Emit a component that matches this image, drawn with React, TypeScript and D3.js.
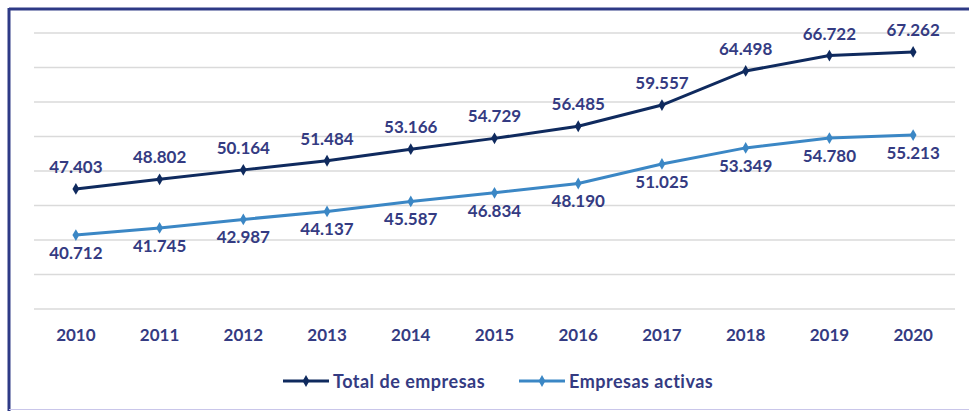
import React, { useEffect, useRef } from 'react'
import * as d3 from 'd3'

const years = ['2010', '2011', '2012', '2013', '2014', '2015', '2016', '2017', '2018', '2019', '2020']
const totalEmpresas = [47403, 48802, 50164, 51484, 53166, 54729, 56485, 59557, 64498, 66722, 67262]
const empresasActivas = [40712, 41745, 42987, 44137, 45587, 46834, 48190, 51025, 53349, 54780, 55213]
const gridTicks = [30000, 35000, 40000, 45000, 50000, 55000, 60000, 65000, 70000]
const seriesNames = ['Total de empresas', 'Empresas activas']

const TEXT = '#343b82'
const NAVY = '#0f2a5e'
const BLUE = '#3b87c5'
const FONT = 'Lato, "Open Sans", sans-serif'

const fmt = (v: number) => d3.format(',')(v).replace(',', '.')

const Chart = () => {
  const ref = useRef<SVGSVGElement | null>(null)

  useEffect(() => {
    if (!ref.current) return
    const svg = d3.select(ref.current)
    svg.selectAll('*').remove()

    const x = d3.scaleBand().domain(years).range([34, 955]).padding(0)
    const cx = (d: string) => (x(d) as number) + x.bandwidth() / 2
    const y = d3.scaleLinear().domain([30000, 70000]).range([309, 33])

    // frame
    svg.append('rect').attr('x', 0).attr('y', 0).attr('width', 969).attr('height', 411).attr('fill', '#fff')
    svg.append('line').attr('x1', 9).attr('x2', 969).attr('y1', 9).attr('y2', 9)
      .attr('stroke', '#2e3a86').attr('stroke-width', 3)
    svg.append('line').attr('x1', 9).attr('x2', 9).attr('y1', 8).attr('y2', 411)
      .attr('stroke', '#2e3a86').attr('stroke-width', 3)
    svg.append('line').attr('x1', 9).attr('x2', 969).attr('y1', 409.5).attr('y2', 409.5)
      .attr('stroke', '#c9c6ea').attr('stroke-width', 1)

    // gridlines
    svg.append('g').selectAll('line').data(gridTicks).enter().append('line')
      .attr('x1', 34).attr('x2', 955)
      .attr('y1', (d) => y(d)).attr('y2', (d) => y(d))
      .attr('stroke', '#dadada').attr('stroke-width', 1.3)

    // x labels
    svg.append('g').selectAll('text').data(years).enter().append('text')
      .attr('x', (d) => cx(d)).attr('y', 341)
      .attr('text-anchor', 'middle')
      .attr('font-family', FONT).attr('font-weight', 'bold').attr('font-size', 17)
      .attr('fill', TEXT)
      .text((d) => d)

    const line = d3.line<number>().x((_, i) => cx(years[i])).y((d) => y(d))
    const diamond = d3.symbol().type(d3.symbolDiamond).size(40)

    const drawSeries = (vals: number[], color: string, above: boolean) => {
      svg.append('path').datum(vals).attr('d', line)
        .attr('fill', 'none').attr('stroke', color).attr('stroke-width', 3)
      svg.append('g').selectAll('path').data(vals).enter().append('path')
        .attr('d', diamond)
        .attr('transform', (d, i) => `translate(${cx(years[i])},${y(d)})`)
        .attr('fill', color)
      svg.append('g').selectAll('text').data(vals).enter().append('text')
        .attr('x', (d, i) => cx(years[i]))
        .attr('y', (d) => (above ? y(d) - 16 : y(d) + 24))
        .attr('text-anchor', 'middle')
        .attr('font-family', FONT).attr('font-weight', 'bold').attr('font-size', 17)
        .attr('fill', TEXT)
        .text((d) => fmt(d))
    }
    drawSeries(totalEmpresas, NAVY, true)
    drawSeries(empresasActivas, BLUE, false)

    // legend
    const legendX = [283, 519]
    const colors = [NAVY, BLUE]
    seriesNames.forEach((name, i) => {
      const g = svg.append('g').attr('transform', `translate(${legendX[i]},381)`)
      g.append('line').attr('x1', 0).attr('x2', 46).attr('y1', 0).attr('y2', 0)
        .attr('stroke', colors[i]).attr('stroke-width', 3)
      g.append('path').attr('d', diamond).attr('transform', 'translate(23,0)').attr('fill', colors[i])
      g.append('text').attr('x', 50).attr('y', 6.5)
        .attr('font-family', FONT).attr('font-weight', 'bold').attr('font-size', 18)
        .attr('letter-spacing', 0.5)
        .attr('fill', TEXT)
        .text(name)
    })
  }, [])

  return <svg ref={ref} width={969} height={411} style={{ display: 'block' }} />
}

export default function App() {
  return (
    <div style={{ position: 'absolute', left: 0, top: 0 }}>
      <Chart />
    </div>
  )
}
